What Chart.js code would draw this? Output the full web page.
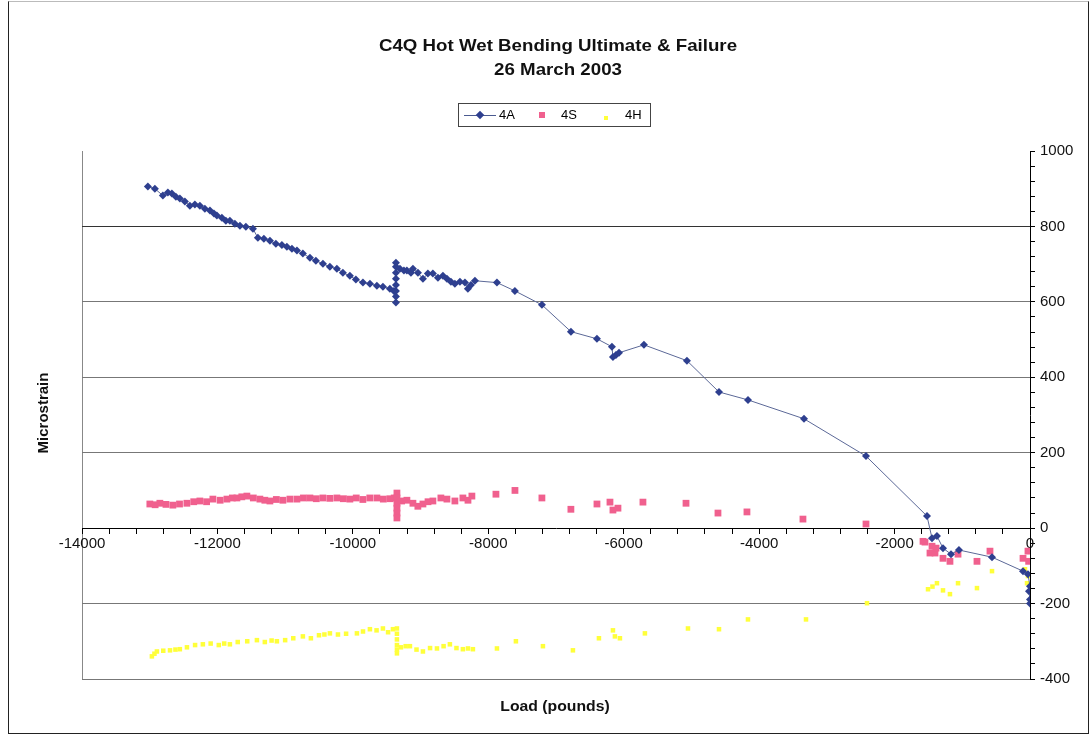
<!DOCTYPE html>
<html>
<head>
<meta charset="utf-8">
<script src="https://cdn.jsdelivr.net/npm/chart.js@4"></script>
<style>
  body { margin:0; background:#fff; font-family: Arial, "Liberation Sans", sans-serif; }
  #wrap { position:relative; width:1091px; height:736px; overflow:hidden; }
  #c { position:absolute; left:0; top:0; }
  .frame { position:absolute; left:8px; top:1px; width:1079px; height:731px; border:1px solid #222; border-top-color:#bbb; }
  .title { position:absolute; left:558px; font-weight:bold; font-size:17px; color:#111; white-space:nowrap;
           transform:translate(-50%,-50%) scaleX(1.1); }
  #legend { position:absolute; left:458px; top:103px; width:191px; height:22px; border:1px solid #444; background:#fff; font-size:13px; }
  #legend span { position:absolute; }
  .axt { position:absolute; font-weight:bold; font-size:15px; color:#111; white-space:nowrap; }
</style>
</head>
<body>
<div id="wrap">
  <canvas id="c" width="1091" height="736"></canvas>
  <div class="frame"></div>
  <div class="title" style="top:46px">C4Q Hot Wet Bending Ultimate &amp; Failure</div>
  <div class="title" style="top:70px">26 March 2003</div>
  <div id="legend">
    <span style="left:5px;top:11px;width:32px;height:1px;background:#4a5a90"></span>
    <span style="left:18px;top:8px;width:6px;height:6px;background:#2e3f8f;transform:rotate(45deg)"></span>
    <span style="left:40px;top:3px">4A</span>
    <span style="left:80px;top:8px;width:6px;height:6px;background:#f0608e"></span>
    <span style="left:102px;top:3px">4S</span>
    <span style="left:145px;top:12px;width:4px;height:4px;background:#ffff3a"></span>
    <span style="left:166px;top:3px">4H</span>
  </div>
  <div class="axt" style="left:42px;top:413px;transform:translate(-50%,-50%) rotate(-90deg)">Microstrain</div>
  <div class="axt" style="left:555px;top:705px;transform:translate(-50%,-50%) scaleX(1.05)">Load (pounds)</div>
</div>
<script>
// gauge readings: [load (lb), microstrain]
const series4A = [
  [-13027,906],[-12924,900],[-12806,882],[-12732,890],[-12673,887],[-12614,879],[-12555,874],
  [-12481,866],[-12407,855],[-12333,858],[-12259,855],[-12185,847],[-12111,842],[-12052,834],
  [-12008,829],[-11934,823],[-11875,815],[-11816,815],[-11742,807],[-11668,802],[-11580,799],
  [-11476,794],[-11403,770],[-11314,767],[-11225,762],[-11137,754],[-11048,751],[-10974,746],
  [-10900,741],[-10826,736],[-10738,728],[-10634,717],[-10546,709],[-10442,701],[-10339,693],
  [-10236,688],[-10147,677],[-10044,669],[-9955,659],[-9851,651],[-9748,648],[-9645,643],
  [-9556,640],[-9453,635],[-9394,629],
  [-9364,598],[-9364,614],[-9364,629],[-9364,645],[-9364,661],[-9364,677],[-9364,693],[-9364,704],
  [-9305,688],[-9246,683],[-9202,683],[-9142,677],[-9113,688],[-9039,677],[-8965,661],
  [-8892,675],[-8818,675],[-8744,664],[-8670,669],[-8611,661],[-8552,653],[-8493,648],
  [-8419,653],[-8345,651],[-8301,635],[-8257,645],[-8197,656],
  [-7872,651],[-7607,629],[-7208,592],[-6779,521],[-6395,502],[-6174,481],[-6159,454],
  [-6115,459],[-6070,465],[-5701,486],[-5066,444],[-4593,361],[-4165,340],[-3338,290],
  [-2422,191],[-1521,32],[-1447,-27],[-1374,-21],[-1285,-53],[-1167,-69],[-1049,-58],
  [-561,-77],[-103,-114],[-30,-122],[0,-154],[-15,-167],[0,-189],[0,-200]
];
const series4S = [
  [-12998,64],[-12920,62],[-12850,66],[-12760,63],[-12658,61],[-12560,64],[-12451,66],[-12350,70],
  [-12259,72],[-12160,70],[-12067,77],[-11960,74],[-11860,77],[-11780,80],[-11712,80],[-11640,83],
  [-11565,85],[-11470,80],[-11373,77],[-11300,74],[-11225,72],[-11130,76],[-11033,74],[-10930,77],
  [-10826,77],[-10730,80],[-10634,80],[-10540,78],[-10442,80],[-10340,79],[-10236,80],[-10140,78],
  [-10044,77],[-9950,80],[-9852,76],[-9750,80],[-9645,80],[-9550,77],[-9453,78],[-9390,80],
  [-9349,93],[-9349,80],[-9349,66],[-9349,53],[-9349,40],[-9349,27],
  [-9280,72],[-9202,74],[-9113,66],[-9040,58],[-8965,64],[-8890,70],[-8818,72],[-8700,80],
  [-8611,77],[-8493,72],[-8375,80],[-8300,74],[-8242,85],
  [-7887,90],[-7606,100],[-7208,80],[-6780,50],[-6395,64],[-6203,69],[-6159,48],[-6085,53],
  [-5716,69],[-5080,66],[-4608,40],[-4180,43],[-3353,24],[-2422,11],
  [-1580,-35],[-1551,-37],[-1477,-66],[-1447,-48],[-1403,-66],[-1388,-53],[-1285,-80],
  [-1182,-88],[-1063,-69],[-783,-88],[-591,-61],[-103,-80],[-30,-61],[-20,-88]
];
const series4H = [
  [-12968,-340],[-12930,-333],[-12894,-327],[-12800,-325],[-12700,-324],[-12620,-322],[-12555,-321],
  [-12450,-316],[-12330,-310],[-12215,-308],[-12100,-306],[-11980,-310],[-11900,-306],[-11816,-308],
  [-11700,-302],[-11560,-300],[-11417,-297],[-11300,-302],[-11200,-298],[-11122,-300],[-11000,-297],
  [-10880,-292],[-10738,-287],[-10620,-292],[-10500,-284],[-10420,-282],[-10339,-279],[-10220,-282],
  [-10100,-280],[-9940,-279],[-9850,-274],[-9748,-268],[-9650,-271],[-9556,-266],[-9480,-276],
  [-9408,-268],
  [-9349,-266],[-9349,-280],[-9349,-295],[-9349,-310],[-9349,-322],[-9349,-332],
  [-9290,-316],[-9220,-313],[-9157,-313],[-9060,-322],[-8965,-327],[-8860,-318],[-8758,-319],
  [-8660,-313],[-8567,-308],[-8470,-318],[-8375,-321],[-8300,-319],[-8227,-321],
  [-7872,-319],[-7592,-300],[-7193,-313],[-6750,-324],[-6366,-292],[-6159,-271],[-6130,-287],
  [-6056,-292],[-5687,-279],[-5051,-266],[-4593,-268],[-4165,-242],[-3308,-242],[-2407,-199],
  [-1506,-162],[-1440,-155],[-1374,-146],[-1285,-165],[-1182,-175],[-1063,-146],[-783,-159],
  [-561,-114],[-74,-109],[-44,-146],[-30,-127],[0,-150],[0,-167]
];
const xMajorLabels = [-14000,-12000,-10000,-8000,-6000,-4000,-2000,0];
const yMajorLabels = [-400,-200,0,200,400,600,800,1000];

const pts = a => a.map(([x,y]) => ({x, y}));
const tickFont = { family: 'Arial, "Liberation Sans", sans-serif', size: 15 };

new Chart(document.getElementById('c'), {
  type: 'scatter',
  data: {
    datasets: [
      { label:'4A', data:pts(series4A), showLine:true, borderColor:'#5b6897', borderWidth:1,
        pointStyle:'rectRot', pointRadius:4, pointBackgroundColor:'#2e3f8f', pointBorderColor:'#2e3f8f', pointBorderWidth:0 },
      { label:'4S', data:pts(series4S), pointStyle:'rect', pointRadius:4.8,
        pointBackgroundColor:'#f0608e', pointBorderColor:'#f0608e', pointBorderWidth:0 },
      { label:'4H', data:pts(series4H), pointStyle:'rect', pointRadius:3.2,
        pointBackgroundColor:'#ffff3a', pointBorderColor:'#ffff3a', pointBorderWidth:0 }
    ]
  },
  options: {
    responsive:false, animation:false,
    layout: { padding: { left:82, top:151, bottom:57, right:0 } },
    plugins: { legend:{display:false}, title:{display:false}, tooltip:{enabled:false} },
    scales: {
      x: {
        type:'linear', min:-14000, max:0, position:{ y:0 },
        afterFit: s => { s.height = 0; },
        border: { color:'#000', width:1 },
        grid: {
          drawOnChartArea:true, tickLength:5,
          color: c => c.tick && c.tick.value === -14000 ? '#888' : 'rgba(0,0,0,0)',
          tickColor:'#000'
        },
        ticks: {
          stepSize:400, autoSkip:false, maxRotation:0, padding:2, color:'#111', font:tickFont,
          callback: v => xMajorLabels.includes(v) ? String(v) : ''
        }
      },
      y: {
        type:'linear', min:-400, max:1000, position:'right',
        afterFit: s => { s.width = 61; },
        border: { color:'#000', width:1 },
        grid: {
          drawOnChartArea:true, tickLength:5,
          color: c => {
            const v = c.tick && c.tick.value;
            if (v === 800) return '#333';
            if (v % 200 === 0 && v !== 0 && v !== 1000) return '#777';
            return 'rgba(0,0,0,0)';
          },
          tickColor:'#000'
        },
        ticks: {
          stepSize:40, autoSkip:false, padding:5, color:'#111', font:tickFont,
          callback: v => yMajorLabels.includes(v) ? String(v) : ''
        }
      }
    }
  }
});
</script>
</body>
</html>
